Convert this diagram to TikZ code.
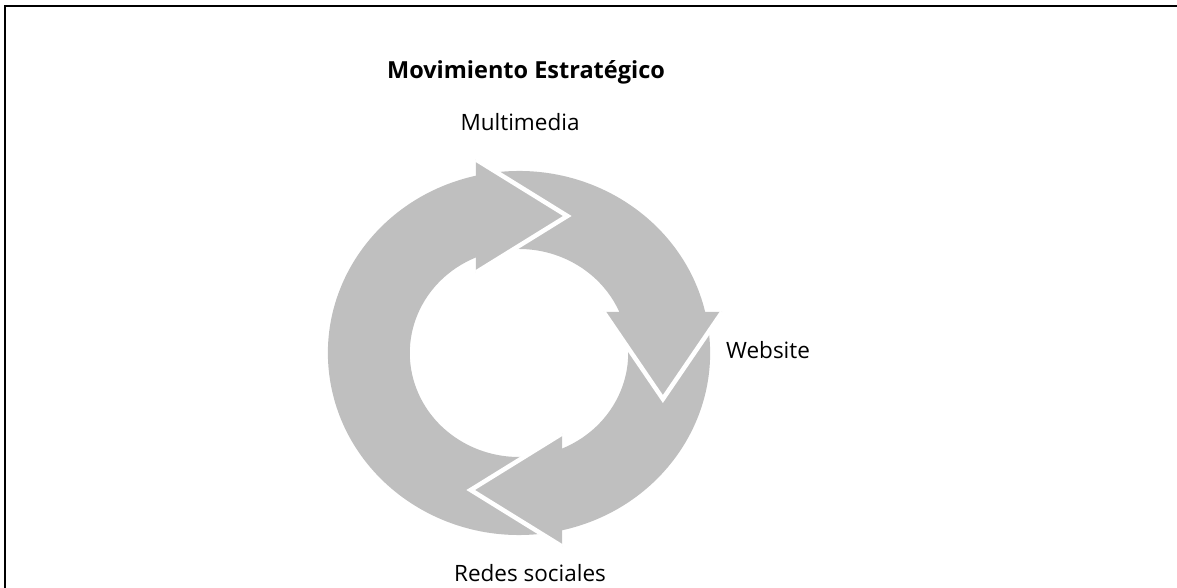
\documentclass[tikz,border=0pt]{standalone}
\usepackage{fontspec}
\setmainfont{Open Sans}
\definecolor{arrowgray}{RGB}{191,191,191}
\begin{document}
\begin{tikzpicture}[x=1pt,y=1pt,
  body/.style={fill=arrowgray},
  headfill/.style={fill=arrowgray},
  headedge/.style={draw=white,line width=4.5pt,line join=miter,miter limit=10},
  label/.style={inner sep=0pt,font=\fontsize{22.5}{26}\selectfont},
  titlelabel/.style={inner sep=0pt,font=\fontsize{23.5}{27}\selectfont\bfseries}]
\useasboundingbox (0,0) rectangle (1177,588);
% frame (top and left edges)
\draw[line width=2.6pt,line join=miter] (5,0) -- (5,582) -- (1177,582);
% cycle
\begin{scope}[shift={(519,235)},xscale=1.05]
  % bodies
  \fill[body] (-80:182) arc[start angle=-80,end angle=-256.98,radius=182]
     -- (-246.78:104) arc[start angle=-246.78,end angle=-80,radius=104] -- cycle;
  \fill[body] (100:182) arc[start angle=100,end angle=13.02,radius=182]
     -- (23.22:104) arc[start angle=23.22,end angle=100,radius=104] -- cycle;
  \fill[body] (10:182) arc[start angle=10,end angle=-76.98,radius=182]
     -- (-66.78:104) arc[start angle=-66.78,end angle=10,radius=104] -- cycle;
  % heads
  \coordinate (h1a) at (-41,193.5); \coordinate (h1t) at (46,137); \coordinate (h1b) at (-41,80.5);
  \coordinate (h2a) at (193.5,41); \coordinate (h2t) at (137,-46); \coordinate (h2b) at (80.5,41);
  \coordinate (h3a) at (41,-193.5); \coordinate (h3t) at (-46,-137); \coordinate (h3b) at (41,-80.5);
  \fill[headfill] (h1a) -- (h1t) -- (h1b) -- cycle;
  \draw[headedge] (h1a) -- (h1t) -- (h1b);
  \fill[headfill] (h2a) -- (h2t) -- (h2b) -- cycle;
  \draw[headedge] (h2a) -- (h2t) -- (h2b);
  \fill[headfill] (h3a) -- (h3t) -- (h3b) -- cycle;
  \draw[headedge] (h3a) -- (h3t) -- (h3b);
\end{scope}
% texts
\node[titlelabel,anchor=base] (title) at (526,509) {Movimiento Estratégico};
\node[label,anchor=base] (multi) at (520,457) {Multimedia};
\node[label,anchor=base west] (web) at (726,229) {Website};
\node[label,anchor=base] (redes) at (530,6) {Redes sociales};
\end{tikzpicture}
\end{document}
